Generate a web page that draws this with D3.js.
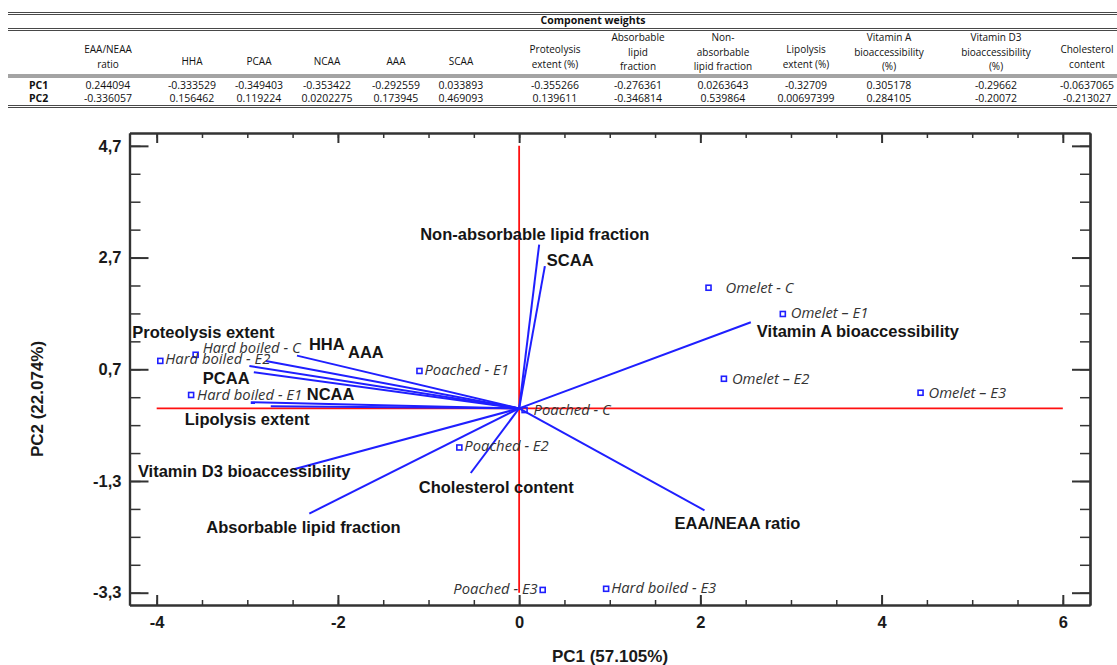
<!DOCTYPE html>
<html>
<head>
<meta charset="utf-8">
<script src="https://cdn.jsdelivr.net/npm/d3@7"></script>
<style>
  body { margin: 0; background: #fff; }
  svg { display: block; }
</style>
</head>
<body>
<script>
// table: component weights
var headerLines = [["EAA/NEAA", "ratio"], ["HHA"], ["PCAA"], ["NCAA"], ["AAA"], ["SCAA"],
  ["Proteolysis", "extent (%)"], ["Absorbable", "lipid", "fraction"], ["Non-", "absorbable", "lipid fraction"],
  ["Lipolysis", "extent (%)"], ["Vitamin A", "bioaccessibility", "(%)"], ["Vitamin D3", "bioaccessibility", "(%)"],
  ["Cholesterol", "content"]];
var pc1Weights = [0.244094, -0.333529, -0.349403, -0.353422, -0.292559, 0.033893, -0.355266,
  -0.276361, 0.0263643, -0.32709, 0.305178, -0.29662, -0.0637065];
var pc2Weights = [-0.336057, 0.156462, 0.119224, 0.0202275, 0.173945, 0.469093, 0.139611,
  -0.346814, 0.539864, 0.00697399, 0.284105, -0.20072, -0.213027];
var rowNames = ["PC1", "PC2"];

// biplot
var vectorNames = ["EAA/NEAA ratio", "HHA", "PCAA", "NCAA", "AAA", "SCAA", "Proteolysis extent",
  "Absorbable lipid fraction", "Non-absorbable lipid fraction", "Lipolysis extent",
  "Vitamin A bioaccessibility", "Vitamin D3 bioaccessibility", "Cholesterol content"];
var samples = ["Omelet - C", "Omelet \u2013 E1", "Omelet \u2013 E2", "Omelet \u2013 E3",
  "Poached - C", "Poached - E1", "Poached - E2", "Poached - E3",
  "Hard boiled - C", "Hard boiled - E1", "Hard boiled - E2", "Hard boiled - E3"];
var scorePC1 = [2.09, 2.91, 2.26, 4.43, 0.06, -1.1, -0.66, 0.26, -3.57, -3.62, -3.96, 0.96];
var scorePC2 = [2.16, 1.69, 0.53, 0.28, -0.03, 0.67, -0.7, -3.25, 0.96, 0.24, 0.85, -3.23];
var biplotScale = [8.38, 5.43];
var xMajor = [-4, -2, 0, 2, 4, 6];
var yMajor = [-3.3, -1.3, 0.7, 2.7, 4.7];
var yMajorLabels = ["-3,3", "-1,3", "0,7", "2,7", "4,7"];
var xTitle = "PC1 (57.105%)";
var yTitle = "PC2 (22.074%)";

// layout only
var colCenter = [108, 192, 259, 327, 396, 461, 555, 638, 723, 806, 889, 996, 1087];
var vecLabelShift = [[-30, 19], [43, -11], [-51, 12], [56, -2], [51, 2], [2, 0], [-117, -28],
  [-103, 19], [-119, -5], [-86, 19], [6, 15], [-156, 8], [-52, 20]];
var ptLabelShift = [[17, 5], [8, 4], [8, 5], [8, 5], [9, 5], [5, 4], [5, 4], [-5, 4],
  [7, -2], [6, 5], [5, 3], [5, 4]];

var width = 1117, height = 665;
var svg = d3.select("body").append("svg")
  .attr("width", width)
  .attr("height", height);

// ---------- table ----------
var tbl = svg.append("g")
  .style("font-family", "'Open Sans', 'Noto Sans', sans-serif")
  .style("fill", "#111");

function doubleRule(yy) {
  [yy, yy + 2].forEach(function (v) {
    tbl.append("line")
      .attr("x1", 8).attr("x2", width)
      .attr("y1", v).attr("y2", v)
      .attr("stroke", "#333").attr("stroke-width", 0.9);
  });
}
doubleRule(12.5);
doubleRule(28.5);
doubleRule(75);
doubleRule(105.5);

tbl.append("text")
  .attr("x", 593).attr("y", 24)
  .attr("text-anchor", "middle")
  .style("font-size", "10.5px").style("font-weight", "bold")
  .text("Component weights");

var heads = tbl.selectAll(".head")
  .data(headerLines)
  .enter().append("text")
  .attr("class", "head")
  .attr("text-anchor", "middle")
  .style("font-size", "10px")
  .attr("transform", function (d, i) { return "translate(" + colCenter[i] + ",0)"; });
heads.selectAll("tspan")
  .data(function (d) { return d.map(function (t, j) { return {t: t, j: j, n: d.length}; }); })
  .enter().append("tspan")
  .attr("x", 0)
  .attr("y", function (d) {
    var last = d.n === 1 ? 64.5 : (d.n === 2 ? 67.5 : 70);
    return last - (d.n - 1 - d.j) * 14.5;
  })
  .text(function (d) { return d.t; });

[pc1Weights, pc2Weights].forEach(function (row, r) {
  var yy = r === 0 ? 88.5 : 102;
  tbl.append("text")
    .attr("x", 29).attr("y", yy)
    .style("font-size", "10.5px").style("font-weight", "bold")
    .text(rowNames[r]);
  tbl.selectAll(".v" + r)
    .data(row)
    .enter().append("text")
    .attr("x", function (d, i) { return colCenter[i]; })
    .attr("y", yy)
    .attr("text-anchor", "middle")
    .style("font-size", "10.5px")
    .text(function (d) { return String(d); });
});

// ---------- biplot ----------
var x = d3.scaleLinear().domain([-4.3, 6.3]).range([129.5, 1090]);
var y = d3.scaleLinear().domain([-3.52, 4.93]).range([605, 133]);
var minorX = d3.range(-4, 6.01, 0.5);
var minorY = d3.range(-3.3, 4.71, 0.5);

var plot = svg.append("g");

// red reference axes
var x0 = d3.extent(xMajor), y0 = d3.extent(yMajor);
plot.append("line")
  .attr("x1", x(x0[0])).attr("x2", x(x0[1]))
  .attr("y1", y(0)).attr("y2", y(0))
  .attr("stroke", "#ff1010").attr("stroke-width", 1.8);
plot.append("line")
  .attr("x1", x(0)).attr("x2", x(0))
  .attr("y1", y(y0[0])).attr("y2", y(y0[1]))
  .attr("stroke", "#ff1010").attr("stroke-width", 1.8);

// loading vectors
var vectors = vectorNames.map(function (name, i) {
  return {name: name, px: pc1Weights[i] * biplotScale[0], py: pc2Weights[i] * biplotScale[1], i: i};
});
plot.selectAll(".vec")
  .data(vectors)
  .enter().append("line")
  .attr("class", "vec")
  .attr("x1", x(0)).attr("y1", y(0))
  .attr("x2", function (d) { return x(d.px); })
  .attr("y2", function (d) { return y(d.py); })
  .attr("stroke", "#1f1fff").attr("stroke-width", 2);

// sample points
var pts = samples.map(function (s, i) { return {name: s, px: scorePC1[i], py: scorePC2[i], i: i}; });
plot.selectAll(".pt")
  .data(pts)
  .enter().append("rect")
  .attr("class", "pt")
  .attr("x", function (d) { return x(d.px) - 2.5; })
  .attr("y", function (d) { return y(d.py) - 2.5; })
  .attr("width", 5).attr("height", 5)
  .attr("fill", "none")
  .attr("stroke", "#1f1fff").attr("stroke-width", 1.6);

plot.selectAll(".ptlab")
  .data(pts)
  .enter().append("text")
  .attr("class", "ptlab")
  .attr("x", function (d) { return x(d.px) + ptLabelShift[d.i][0]; })
  .attr("y", function (d) { return y(d.py) + ptLabelShift[d.i][1]; })
  .attr("text-anchor", function (d) { return ptLabelShift[d.i][0] < 0 ? "end" : "start"; })
  .style("font-family", "'Open Sans', 'Noto Sans', sans-serif")
  .style("font-style", "italic")
  .style("font-size", "14.8px")
  .style("fill", "#333")
  .text(function (d) { return d.name; });

plot.selectAll(".veclab")
  .data(vectors)
  .enter().append("text")
  .attr("class", "veclab")
  .attr("x", function (d) { return x(d.px) + vecLabelShift[d.i][0]; })
  .attr("y", function (d) { return y(d.py) + vecLabelShift[d.i][1]; })
  .style("font-family", "'Liberation Sans', Arial, sans-serif")
  .style("font-weight", "bold")
  .style("font-size", "16.5px")
  .style("fill", "#151515")
  .text(function (d) { return d.name; });

// frame axes
function styleAxis(g, w) {
  g.selectAll(".domain").attr("stroke", "#333").attr("stroke-width", 2.2);
  g.selectAll(".tick line").attr("stroke", "#333").attr("stroke-width", w);
  g.selectAll("text")
    .style("font-family", "'Liberation Sans', Arial, sans-serif")
    .style("font-weight", "bold")
    .style("font-size", "16.5px")
    .style("fill", "#1a1a1a");
}
var blank = function () { return ""; };

var gb = svg.append("g").attr("transform", "translate(0," + y.range()[0] + ")");
gb.append("g").call(d3.axisBottom(x).tickValues(minorX).tickSize(-5).tickSizeOuter(0).tickFormat(blank))
  .call(function (g) { styleAxis(g, 1.5); });
gb.append("g").call(d3.axisBottom(x).tickValues(xMajor).tickSize(-10).tickSizeOuter(0).tickPadding(11)
  .tickFormat(function (d) { return String(d); }))
  .call(function (g) { styleAxis(g, 2); });

var gt = svg.append("g").attr("transform", "translate(0," + y.range()[1] + ")");
gt.append("g").call(d3.axisTop(x).tickValues(minorX).tickSize(-5).tickSizeOuter(0).tickFormat(blank))
  .call(function (g) { styleAxis(g, 1.5); });
gt.append("g").call(d3.axisTop(x).tickValues(xMajor).tickSize(-10).tickSizeOuter(0).tickFormat(blank))
  .call(function (g) { styleAxis(g, 2); });

var gl = svg.append("g").attr("transform", "translate(" + x.range()[0] + ",0)");
gl.append("g").call(d3.axisLeft(y).tickValues(minorY).tickSize(-11).tickSizeOuter(0).tickFormat(blank))
  .call(function (g) { styleAxis(g, 1.5); });
gl.append("g").call(d3.axisLeft(y).tickValues(yMajor).tickSize(-19).tickSizeOuter(0).tickPadding(8)
  .tickFormat(function (d, i) { return yMajorLabels[i]; }))
  .call(function (g) { styleAxis(g, 2); });

var gr = svg.append("g").attr("transform", "translate(" + x.range()[1] + ",0)");
gr.append("g").call(d3.axisRight(y).tickValues(minorY).tickSize(-10).tickSizeOuter(0).tickFormat(blank))
  .call(function (g) { styleAxis(g, 1.5); });
gr.append("g").call(d3.axisRight(y).tickValues(yMajor).tickSize(-18).tickSizeOuter(0).tickFormat(blank))
  .call(function (g) { styleAxis(g, 2); });

// axis titles
svg.append("text")
  .attr("x", 610).attr("y", 662)
  .attr("text-anchor", "middle")
  .style("font-family", "'Liberation Sans', Arial, sans-serif")
  .style("font-weight", "bold").style("font-size", "17px").style("fill", "#1a1a1a")
  .text(xTitle);
svg.append("text")
  .attr("transform", "translate(43,399) rotate(-90)")
  .attr("text-anchor", "middle")
  .style("font-family", "'Liberation Sans', Arial, sans-serif")
  .style("font-weight", "bold").style("font-size", "17px").style("fill", "#1a1a1a")
  .text(yTitle);
</script>
</body>
</html>
